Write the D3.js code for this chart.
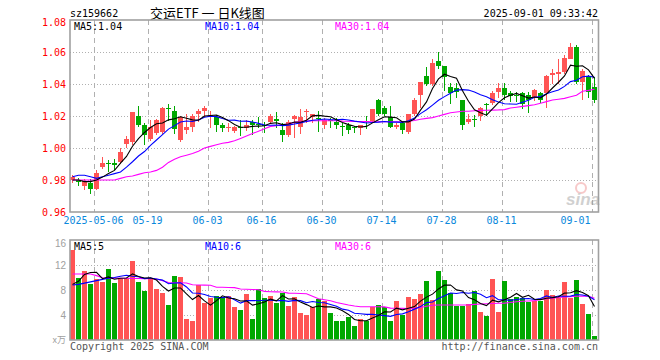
<!DOCTYPE html>
<html lang="zh-CN">
<head>
<meta charset="UTF-8">
<title>交运ETF 日K线图</title>
<style>
body { margin: 0; background: #fff; }
svg text { font-family: "DejaVu Sans Mono", monospace; font-size: 10px; }
.grid-h { stroke: #b0b0b0; stroke-dasharray: 1,2; }
.grid-v { stroke: #b0b0b0; stroke-dasharray: 5,4; }
.frame { fill: none; stroke: #a0a0a0; stroke-width: 1.6; }
.axis path, .axis line { display: none; }
</style>
</head>
<body>
<svg width="660" height="360"></svg>
<script src="https://d3js.org/d3.v7.min.js"></script>
<script>

// trading days shown on the chart
const dates = [
  '2025-04-25','2025-04-28','2025-04-29','2025-04-30',
  '2025-05-06','2025-05-07','2025-05-08','2025-05-09',
  '2025-05-12','2025-05-13','2025-05-14','2025-05-15','2025-05-16',
  '2025-05-19','2025-05-20','2025-05-21','2025-05-22','2025-05-23',
  '2025-05-26','2025-05-27','2025-05-28','2025-05-29','2025-05-30',
  '2025-06-03','2025-06-04','2025-06-05','2025-06-06',
  '2025-06-09','2025-06-10','2025-06-11','2025-06-12','2025-06-13',
  '2025-06-16','2025-06-17','2025-06-18','2025-06-19','2025-06-20',
  '2025-06-23','2025-06-24','2025-06-25','2025-06-26','2025-06-27',
  '2025-06-30','2025-07-01','2025-07-02','2025-07-03','2025-07-04',
  '2025-07-07','2025-07-08','2025-07-09','2025-07-10','2025-07-11',
  '2025-07-14','2025-07-15','2025-07-16','2025-07-17','2025-07-18',
  '2025-07-21','2025-07-22','2025-07-23','2025-07-24','2025-07-25',
  '2025-07-28','2025-07-29','2025-07-30','2025-07-31','2025-08-01',
  '2025-08-04','2025-08-05','2025-08-06','2025-08-07','2025-08-08',
  '2025-08-11','2025-08-12','2025-08-13','2025-08-14','2025-08-15',
  '2025-08-18','2025-08-19','2025-08-20','2025-08-21','2025-08-22',
  '2025-08-25','2025-08-26','2025-08-27','2025-08-28','2025-08-29',
  '2025-09-01'
];

const opens = [0.980,0.980,0.9763,0.9783,0.9748,0.9883,0.9908,0.9908,0.9914,1.0025,
  1.0039,1.0200,1.0144,1.0061,1.0092,1.0096,1.0252,1.0231,1.0050,1.0108,
  1.0129,1.0213,1.0231,1.0196,1.0196,1.0144,1.0125,1.0102,1.0129,1.0123,
  1.0163,1.0152,1.0144,1.0165,1.0179,1.0113,1.0081,1.0183,1.0129,1.0227,
  1.0192,1.0186,1.0144,1.0177,1.0165,1.0135,1.0144,1.0133,1.0123,1.0167,
  1.0165,1.0300,1.0248,1.0196,1.0133,1.0154,1.0102,1.0213,1.0331,1.0452,
  1.0400,1.0546,1.0513,1.0383,1.0373,1.0300,1.0164,1.0181,1.0200,1.0275,
  1.0283,1.0348,1.0373,1.0342,1.0333,1.0342,1.0331,1.0310,1.0342,1.0342,
  1.0456,1.0467,1.0471,1.0561,1.0633,1.0415,1.0442,1.0379];
const highs = [0.983,0.981,0.9806,0.9806,0.9863,0.9946,0.9925,0.9929,0.9998,1.0075,
  1.0227,1.0263,1.0154,1.0175,1.0184,1.0256,1.0273,1.0263,1.0198,1.0213,
  1.0213,1.0244,1.0263,1.0231,1.0206,1.0154,1.0154,1.0135,1.0175,1.0175,
  1.0175,1.0192,1.0165,1.0213,1.0225,1.0154,1.0175,1.0205,1.0242,1.0242,
  1.0213,1.0231,1.0185,1.0185,1.0185,1.0154,1.0154,1.0138,1.0144,1.0200,
  1.0242,1.0306,1.0263,1.0263,1.0154,1.0154,1.0213,1.0310,1.0415,1.0504,
  1.0558,1.0598,1.0513,1.0404,1.0404,1.0300,1.0213,1.0206,1.0256,1.0283,
  1.0354,1.0404,1.0404,1.0354,1.0352,1.0352,1.0352,1.0369,1.0352,1.0456,
  1.0492,1.0558,1.0583,1.0658,1.0642,1.0492,1.0454,1.0442];
const lows = [0.979,0.977,0.9742,0.9717,0.9744,0.9873,0.9858,0.9867,0.9908,1.0008,
  1.0027,1.0138,1.0025,1.0050,1.0088,1.0092,1.0175,1.0096,1.0044,1.0096,
  1.0108,1.0169,1.0200,1.0133,1.0108,1.0108,1.0108,1.0098,1.0081,1.0113,
  1.0088,1.0129,1.0102,1.0154,1.0133,1.0046,1.0075,1.0071,1.0092,1.0165,
  1.0165,1.0106,1.0127,1.0131,1.0127,1.0081,1.0092,1.0098,1.0088,1.0123,
  1.0165,1.0209,1.0206,1.0129,1.0123,1.0092,1.0096,1.0206,1.0258,1.0394,
  1.0394,1.0498,1.0363,1.0279,1.0321,1.0117,1.0156,1.0138,1.0173,1.0206,
  1.0273,1.0321,1.0308,1.0296,1.0296,1.0248,1.0227,1.0300,1.0288,1.0258,
  1.0404,1.0404,1.0471,1.0561,1.0404,1.0304,1.0321,1.0288];
const closes = [0.982,0.979,0.9796,0.9748,0.9846,0.9908,0.9902,0.9894,0.9977,1.0054,
  1.0227,1.0144,1.0081,1.0133,1.0175,1.0248,1.0244,1.0117,1.0192,1.0129,
  1.0200,1.0233,1.0248,1.0206,1.0144,1.0123,1.0133,1.0129,1.0123,1.0144,
  1.0144,1.0144,1.0138,1.0200,1.0165,1.0081,1.0165,1.0200,1.0192,1.0233,
  1.0213,1.0183,1.0175,1.0169,1.0144,1.0129,1.0113,1.0125,1.0144,1.0163,
  1.0242,1.0213,1.0213,1.0133,1.0144,1.0113,1.0213,1.0300,1.0415,1.0400,
  1.0533,1.0513,1.0442,1.0346,1.0346,1.0144,1.0181,1.0179,1.0248,1.0273,
  1.0346,1.0373,1.0331,1.0325,1.0331,1.0275,1.0300,1.0363,1.0296,1.0450,
  1.0467,1.0477,1.0561,1.0633,1.0415,1.0483,1.0346,1.0296];

// price moving averages as drawn on the chart
const ma5 = [0.980,0.980,0.979,0.979,0.9800,0.9818,0.9840,0.9860,0.9905,0.9947,
  1.0011,1.0059,1.0097,1.0128,1.0152,1.0156,1.0176,1.0183,1.0195,1.0186,
  1.0176,1.0174,1.0200,1.0203,1.0206,1.0191,1.0171,1.0147,1.0130,1.0130,
  1.0135,1.0137,1.0139,1.0154,1.0158,1.0146,1.0150,1.0162,1.0161,1.0174,
  1.0201,1.0204,1.0199,1.0195,1.0177,1.0160,1.0146,1.0136,1.0131,1.0135,
  1.0157,1.0177,1.0195,1.0193,1.0189,1.0163,1.0163,1.0181,1.0237,1.0288,
  1.0372,1.0432,1.0461,1.0447,1.0436,1.0358,1.0292,1.0239,1.0220,1.0205,
  1.0245,1.0284,1.0314,1.0330,1.0341,1.0327,1.0312,1.0319,1.0313,1.0337,
  1.0375,1.0411,1.0450,1.0518,1.0511,1.0514,1.0488,1.0435];
const ma10 = [0.982,0.983,0.983,0.982,0.981,0.982,0.983,0.984,0.985,0.988,
  0.9914,0.9950,0.9978,1.0017,1.0050,1.0084,1.0118,1.0140,1.0162,1.0169,
  1.0166,1.0175,1.0192,1.0199,1.0196,1.0184,1.0173,1.0174,1.0167,1.0168,
  1.0163,1.0154,1.0143,1.0142,1.0144,1.0140,1.0143,1.0150,1.0157,1.0166,
  1.0173,1.0177,1.0181,1.0178,1.0176,1.0180,1.0175,1.0168,1.0163,1.0156,
  1.0159,1.0162,1.0166,1.0162,1.0162,1.0160,1.0170,1.0188,1.0215,1.0239,
  1.0268,1.0298,1.0321,1.0342,1.0362,1.0365,1.0362,1.0350,1.0333,1.0321,
  1.0302,1.0288,1.0277,1.0275,1.0273,1.0286,1.0298,1.0317,1.0321,1.0339,
  1.0351,1.0362,1.0385,1.0415,1.0424,1.0445,1.0449,1.0442];
const ma30 = [0.980,0.980,0.980,0.980,0.980,0.980,0.980,0.980,0.981,0.982,
  0.9825,0.9835,0.9845,0.985,0.986,0.988,0.991,0.993,0.9945,0.9955,
  0.9965,0.998,1.000,1.001,1.002,1.003,1.0035,1.0045,1.006,1.0075,
  1.009,1.0105,1.012,1.0135,1.014,1.0145,1.015,1.016,1.0165,1.0168,
  1.017,1.017,1.017,1.017,1.017,1.0168,1.0167,1.0166,1.0165,1.0165,
  1.0164,1.0164,1.0164,1.0164,1.0164,1.0165,1.0167,1.0172,1.018,1.0185,
  1.019,1.020,1.021,1.022,1.0225,1.023,1.023,1.0233,1.0235,1.0236,
  1.0237,1.0238,1.024,1.025,1.0255,1.026,1.0265,1.027,1.028,1.029,
  1.030,1.0305,1.031,1.032,1.033,1.0355,1.036,1.0367];

// volume, in units of 10,000 (万)
const volumes = [14.4,9.97,11.04,8.96,9.76,9.33,11.36,9.17,9.76,9.97,
  12.64,9.33,7.9,9.97,8.16,7.57,5.6,10.24,10.08,3.36,
  3.09,8.8,5.97,6.67,7.04,6.93,7.04,5.33,4.8,7.36,
  3.36,8.16,6.77,7.04,5.97,7.57,5.44,6.93,4.37,4.0,
  5.33,6.51,6.29,4.37,3.09,3.09,3.63,2.24,3.36,3.09,
  5.33,5.6,5.23,3.09,6.24,4.0,6.88,6.56,7.41,9.44,
  6.4,11.04,9.6,7.57,5.49,5.5,5.81,7.84,4.53,3.89,
  9.76,4.53,9.44,6.56,6.93,6.67,6.13,6.29,6.29,8.0,
  7.2,6.77,9.23,6.67,9.6,5.76,4.16,0.64];
const vma5 = [8.9,9.4,10.5,10.8,10.83,9.81,10.09,9.72,9.88,9.92,
  10.58,10.17,9.92,9.96,9.6,8.59,7.84,8.31,8.33,7.37,
  6.47,7.11,6.26,5.58,6.31,7.08,6.73,6.6,6.23,6.29,
  5.58,5.8,6.09,6.54,6.26,7.1,6.56,6.59,6.06,5.66,
  5.21,5.43,5.3,5.3,5.12,4.67,4.09,3.28,3.08,3.08,
  3.53,3.92,4.52,4.47,5.1,4.83,5.09,5.35,6.22,6.86,
  7.34,8.17,8.78,8.81,8.02,7.84,6.79,6.44,5.83,5.51,
  6.37,6.11,6.43,6.84,7.44,6.83,7.15,6.52,6.46,6.68,
  6.78,6.91,7.5,7.57,7.89,7.61,7.08,5.37];
const vma10 = [8.8,8.9,9.1,9.3,9.5,9.7,9.9,10.0,10.2,10.37,
  10.2,10.13,9.82,9.92,9.76,9.58,9.01,9.11,9.15,8.49,
  7.53,7.48,7.28,6.95,6.84,6.78,6.92,6.43,5.9,6.3,
  6.33,6.27,6.35,6.38,6.28,6.34,6.18,6.34,6.3,5.96,
  6.16,5.99,5.95,5.68,5.39,4.94,4.76,4.29,4.19,4.1,
  4.1,4.01,3.9,3.78,4.09,4.18,4.51,4.94,5.34,5.98,
  6.09,6.63,7.07,7.51,7.44,7.59,7.48,7.61,7.32,6.77,
  7.1,6.45,6.44,6.34,6.48,6.6,6.63,6.47,6.65,7.06,
  6.8,7.03,7.01,7.02,7.29,7.19,7.0,6.43];
const vma30 = [10.56,10.56,10.56,10.56,10.3,9.95,9.9,9.9,9.88,9.87,
  9.85,9.85,9.82,9.8,9.75,9.5,9.2,9.17,9.15,9.12,
  8.85,8.8,8.78,8.75,8.45,8.43,8.4,8.38,8.15,8.11,
  8.08,8.05,7.78,7.73,7.7,7.68,7.5,7.47,7.44,7.4,
  7.0,6.6,6.45,6.29,6.0,5.8,5.6,5.44,5.33,5.33,
  5.33,5.32,5.3,5.1,5.07,5.06,5.05,5.07,5.2,5.4,
  5.55,5.6,5.6,5.6,5.6,5.6,5.62,5.7,5.76,5.8,
  5.85,5.87,5.9,6.0,6.13,6.2,6.25,6.3,6.5,6.6,
  6.67,6.8,6.9,6.93,7.0,7.04,7.0,6.67];

const tickDates = ['2025-05-06','2025-05-19','2025-06-03','2025-06-16','2025-06-30',
  '2025-07-14','2025-07-28','2025-08-11','2025-09-01'];
const tickLabels = ['2025-05-06','05-19','06-03','06-16','06-30','07-14','07-28','08-11','09-01'];
const priceTicks = [1.08, 1.06, 1.04, 1.02, 1.00, 0.98, 0.96];
const volTicks = [16, 12, 8, 4];

const RED = '#ff5454';
const GREEN = '#00a800';

var svg = d3.select('svg');

var plot = { left: 70, right: 598 };
var kTop = 20, kBottom = 212;
var vTop = 240, vBottom = 340;

var rows = dates.map((d, i) => ({
  date: d, o: opens[i], h: highs[i], l: lows[i], c: closes[i], v: volumes[i]
}));

// one slot is 6px wide, bodies 5px
var x = d3.scaleBand()
  .domain(dates)
  .range([plot.left - 0.5, plot.right - 0.5])
  .paddingInner(1 / 6)
  .paddingOuter(1 / 12);

var y = d3.scaleLinear().domain([0.96, 1.08]).range([kBottom, kTop]);
var yv = d3.scaleLinear().domain([0, 16]).range([vBottom, vTop]);

var bw = x.bandwidth();
var mid = d => x(d) + bw / 2;
var colorOf = d => d.c >= d.o ? RED : GREEN;

svg.append('rect').attr('width', 660).attr('height', 360).attr('fill', '#fff');

var defs = svg.append('defs');
defs.append('clipPath').attr('id', 'clipK')
  .append('rect').attr('x', plot.left).attr('y', kTop)
  .attr('width', plot.right - plot.left).attr('height', kBottom - kTop);
defs.append('clipPath').attr('id', 'clipV')
  .append('rect').attr('x', plot.left).attr('y', vTop)
  .attr('width', plot.right - plot.left).attr('height', vBottom - vTop);

/*------------------------------------*\
  HEADER
\*------------------------------------*/
svg.append('text').attr('x', 70).attr('y', 17).text('sz159662');
svg.append('text').attr('x', 150).attr('y', 18)
  .style('font-family', '"Noto Sans CJK SC", sans-serif').style('font-size', '13px')
  .text('交运ETF 一 日K线图');
svg.append('text').attr('x', 598).attr('y', 17).attr('text-anchor', 'end')
  .text('2025-09-01 09:33:42');

/*------------------------------------*\
  GRID
\*------------------------------------*/
var grid = svg.append('g');

grid.selectAll('.gk')
  .data(priceTicks.filter(t => t < 1.07 && t > 0.97))
  .enter().append('line')
  .attr('class', 'grid-h')
  .attr('x1', plot.left).attr('x2', plot.right)
  .attr('y1', d => Math.round(y(d)) + 0.5).attr('y2', d => Math.round(y(d)) + 0.5);

grid.selectAll('.gv')
  .data(volTicks.slice(1))
  .enter().append('line')
  .attr('class', 'grid-h')
  .attr('x1', plot.left).attr('x2', plot.right)
  .attr('y1', d => Math.round(yv(d)) + 0.5).attr('y2', d => Math.round(yv(d)) + 0.5);

[[kTop, kBottom], [vTop, vBottom]].forEach(function (r) {
  grid.selectAll(null)
    .data(tickDates)
    .enter().append('line')
    .attr('class', 'grid-v')
    .attr('x1', d => x(d) + 0.5).attr('x2', d => x(d) + 0.5)
    .attr('y1', r[0]).attr('y2', r[1]);
});

/*------------------------------------*\
  CANDLES
\*------------------------------------*/
var candles = svg.append('g').attr('clip-path', 'url(#clipK)');

candles.selectAll('.wick')
  .data(rows)
  .enter().append('line')
  .attr('x1', d => mid(d.date)).attr('x2', d => mid(d.date))
  .attr('y1', d => Math.round(y(d.h))).attr('y2', d => Math.round(y(d.l)) + 1)
  .attr('stroke', colorOf);

candles.selectAll('.body')
  .data(rows)
  .enter().append('rect')
  .attr('x', d => x(d.date))
  .attr('width', bw)
  .attr('y', d => Math.round(y(Math.max(d.o, d.c))))
  .attr('height', d => Math.max(1, Math.round(Math.abs(y(d.o) - y(d.c)))))
  .attr('fill', colorOf)
  .attr('shape-rendering', 'crispEdges');

var lineK = d3.line()
  .x((d, i) => mid(dates[i]))
  .y(d => y(d));

[[ma30, '#ff00ff'], [ma10, '#0000ff'], [ma5, '#000000']].forEach(function (s) {
  candles.append('path')
    .attr('d', lineK(s[0]))
    .attr('fill', 'none')
    .attr('stroke', s[1])
    .attr('stroke-width', 1.1);
});

// sina watermark
var mark = svg.append('g').attr('opacity', 0.45);
mark.append('circle').attr('cx', 581).attr('cy', 188).attr('r', 5)
  .attr('fill', 'none').attr('stroke', '#e88').attr('stroke-width', 2);
mark.append('text').attr('x', 566).attr('y', 205)
  .style('font-family', '"Liberation Sans", Arial, sans-serif')
  .style('font-size', '17px').style('font-weight', 'bold').style('font-style', 'italic')
  .attr('fill', '#999').text('sina');

/*------------------------------------*\
  VOLUME
\*------------------------------------*/
var vol = svg.append('g').attr('clip-path', 'url(#clipV)');

vol.selectAll('rect')
  .data(rows)
  .enter().append('rect')
  .attr('x', d => x(d.date))
  .attr('width', bw)
  .attr('y', d => Math.round(yv(d.v)))
  .attr('height', d => vBottom - Math.round(yv(d.v)))
  .attr('fill', colorOf)
  .attr('shape-rendering', 'crispEdges');

var lineV = d3.line()
  .x((d, i) => mid(dates[i]))
  .y(d => yv(d));

[[vma30, '#ff00ff'], [vma10, '#0000ff'], [vma5, '#000000']].forEach(function (s) {
  vol.append('path')
    .attr('d', lineV(s[0]))
    .attr('fill', 'none')
    .attr('stroke', s[1])
    .attr('stroke-width', 1.1);
});

/*------------------------------------*\
  FRAMES
\*------------------------------------*/
svg.append('rect').attr('class', 'frame')
  .attr('x', plot.left).attr('y', kTop)
  .attr('width', plot.right - plot.left + 0.5).attr('height', kBottom - kTop);
svg.append('rect').attr('class', 'frame')
  .attr('x', plot.left).attr('y', vTop)
  .attr('width', plot.right - plot.left + 0.5).attr('height', vBottom - vTop);

/*------------------------------------*\
  AXES
\*------------------------------------*/
var yAxis = svg.append('g')
  .attr('class', 'axis')
  .attr('transform', 'translate(66,0)')
  .call(d3.axisLeft(y).tickValues(priceTicks).tickFormat(d3.format('.2f')).tickSize(0).tickPadding(0));
yAxis.selectAll('text')
  .attr('fill', '#ff0000')
  .style('font-family', '"DejaVu Sans Mono", monospace').style('font-size', '10px');
yAxis.selectAll('text').filter(d => d === 1.08).attr('dy', '0.55em');

var xAxis = svg.append('g')
  .attr('class', 'axis')
  .attr('transform', 'translate(-3,' + (kBottom + 3) + ')')
  .call(d3.axisBottom(x).tickValues(tickDates)
    .tickFormat((d, i) => tickLabels[i]).tickSize(0).tickPadding(2));
xAxis.selectAll('text')
  .attr('fill', '#0a88dc')
  .style('font-family', '"DejaVu Sans Mono", monospace').style('font-size', '10px');
xAxis.selectAll('text').filter((d, i) => i === tickDates.length - 1)
  .attr('text-anchor', 'end').attr('x', -1);

var vAxis = svg.append('g')
  .attr('class', 'axis')
  .attr('transform', 'translate(66,0)')
  .call(d3.axisLeft(yv).tickValues(volTicks).tickSize(0).tickPadding(0));
vAxis.selectAll('text')
  .attr('fill', '#a0a0a0')
  .style('font-family', '"Liberation Sans", Arial, sans-serif').style('font-size', '10px');
vAxis.selectAll('text').filter(d => d === 16).attr('dy', '0.6em');

svg.append('text').attr('x', 66).attr('y', 343).attr('text-anchor', 'end')
  .attr('fill', '#a0a0a0')
  .style('font-family', '"Noto Sans CJK SC", sans-serif').style('font-size', '9px')
  .text('x万');

/*------------------------------------*\
  LEGENDS
\*------------------------------------*/
var legends = [
  [30, 'MA5:1.04', 'MA10:1.04', 'MA30:1.04'],
  [250, 'MA5:5', 'MA10:6', 'MA30:6']
];
legends.forEach(function (l) {
  svg.append('text').attr('x', 74).attr('y', l[0]).attr('fill', '#000').text(l[1]);
  svg.append('text').attr('x', 205).attr('y', l[0]).attr('fill', '#0000ff').text(l[2]);
  svg.append('text').attr('x', 335).attr('y', l[0]).attr('fill', '#ff00ff').text(l[3]);
});

/*------------------------------------*\
  FOOTER
\*------------------------------------*/
svg.append('text').attr('x', 70).attr('y', 350).attr('fill', '#555')
  .text('Copyright 2025 SINA.COM');
svg.append('text').attr('x', 598).attr('y', 350).attr('text-anchor', 'end').attr('fill', '#555')
  .text('http://finance.sina.com.cn');

</script>
</body>
</html>
